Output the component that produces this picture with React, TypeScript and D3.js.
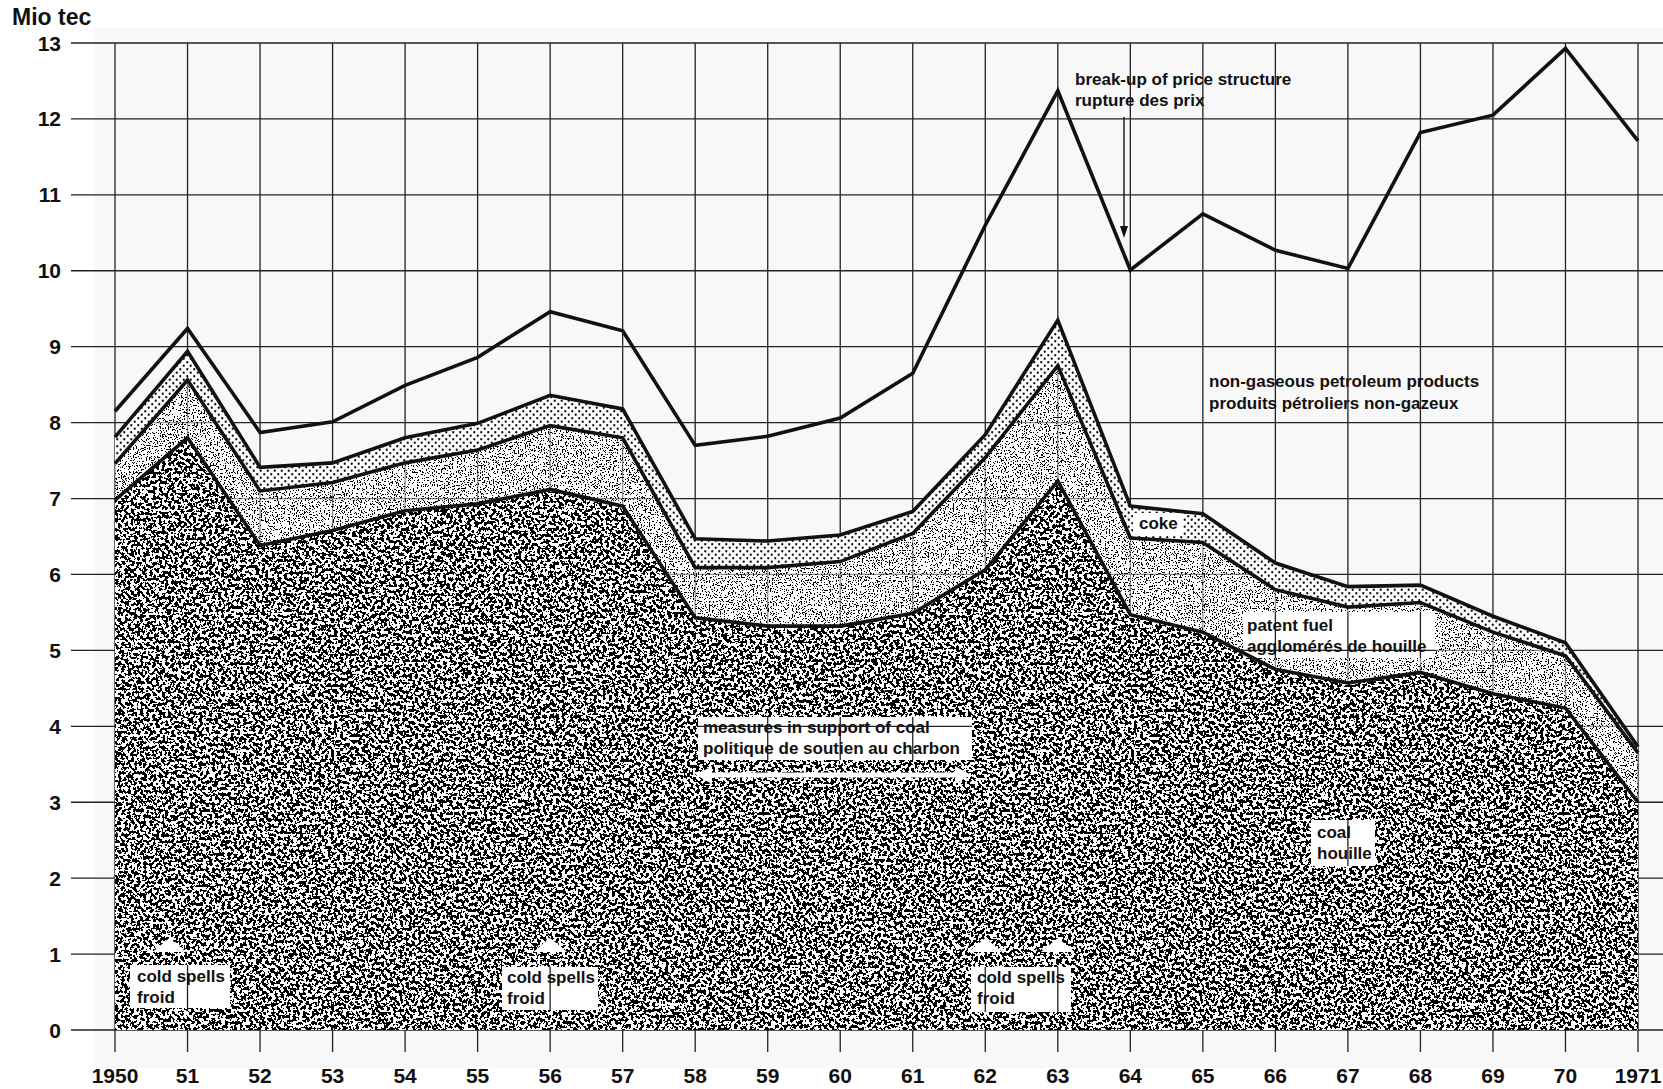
import React from 'react';
import * as d3 from 'd3';

// ---- data (Mio tec) ----
const years = [1950, 1951, 1952, 1953, 1954, 1955, 1956, 1957, 1958, 1959, 1960, 1961, 1962, 1963, 1964, 1965, 1966, 1967, 1968, 1969, 1970, 1971];
const yearLabels = ['1950', '51', '52', '53', '54', '55', '56', '57', '58', '59', '60', '61', '62', '63', '64', '65', '66', '67', '68', '69', '70', '1971'];
const coal = [6.98, 7.8, 6.38, 6.58, 6.84, 6.93, 7.12, 6.9, 5.43, 5.32, 5.32, 5.49, 6.06, 7.23, 5.47, 5.24, 4.75, 4.57, 4.71, 4.43, 4.24, 3.0];
const patentFuel = [0.48, 0.76, 0.72, 0.63, 0.63, 0.71, 0.84, 0.9, 0.66, 0.77, 0.85, 1.05, 1.48, 1.52, 1.01, 1.18, 1.05, 1.0, 0.92, 0.81, 0.69, 0.65];
const coke = [0.35, 0.38, 0.31, 0.26, 0.33, 0.35, 0.4, 0.38, 0.38, 0.35, 0.35, 0.29, 0.3, 0.6, 0.42, 0.38, 0.35, 0.27, 0.23, 0.21, 0.17, 0.08];
const petroleum = [0.34, 0.3, 0.46, 0.54, 0.69, 0.87, 1.1, 1.03, 1.23, 1.38, 1.54, 1.82, 2.76, 3.02, 3.11, 3.95, 4.12, 4.19, 5.96, 6.6, 7.83, 7.98];
const yTicks = [0, 1, 2, 3, 4, 5, 6, 7, 8, 9, 10, 11, 12, 13];
const seriesKeys = ['coal', 'patentFuel', 'coke', 'petroleum'];
const coldSpellYears = [1950.75, 1956, 1962, 1963];

const W = 1663;
const H = 1089;
const FONT = '"Liberation Sans", Arial, Helvetica, sans-serif';
const NARROW = '"Liberation Sans Narrow", "Liberation Sans", Arial, sans-serif';

// label boxes (white patches in the textured areas)
const boxes = [
  [1133, 513, 50, 22],
  [1243, 612, 192, 46],
  [1311, 820, 64, 46],
  [698, 717, 274, 43],
  [130, 965, 100, 43],
  [502, 967, 96, 43],
  [971, 967, 100, 45],
];

export default function App() {
  const x = d3.scaleLinear().domain([1950, 1971]).range([115, 1638]);
  const y = d3.scaleLinear().domain([0, 13]).range([1030, 43]);

  const rows = years.map((yr, i) => ({
    year: yr,
    coal: coal[i],
    patentFuel: patentFuel[i],
    coke: coke[i],
    petroleum: petroleum[i],
  }));
  const stacked = d3.stack<any>().keys(seriesKeys)(rows);

  const area = d3
    .area<any>()
    .x((d: any) => x(d.data.year))
    .y0((d: any) => y(d[0]))
    .y1((d: any) => y(d[1]));
  const line = d3
    .line<any>()
    .x((d: any) => x(d.data.year))
    .y((d: any) => y(d[1]));

  const textStyle = { fontFamily: FONT, fontWeight: 700, fontSize: 17, fill: '#111' } as const;
  const tri = (cx: number) => `M${cx - 17},952 L${cx},938 L${cx + 17},952 Z`;

  const grid = (prefix: string, opacity = 1) => (
    <g opacity={opacity}>
      {yTicks.map((t) => (
        <line key={prefix + 'h' + t} x1={71} x2={W} y1={y(t)} y2={y(t)} stroke="#222" strokeWidth={1.3} />
      ))}
      {years.map((yr) => (
        <line key={prefix + 'v' + yr} x1={x(yr)} x2={x(yr)} y1={y(13)} y2={y(0) + 22} stroke="#222" strokeWidth={1.3} />
      ))}
    </g>
  );

  const noise = (id: string, freq: number, oct: number, seed: number, table: string) => (
    <filter id={id} filterUnits="userSpaceOnUse" x="0" y="0" width={W} height={H} colorInterpolationFilters="sRGB">
      <feTurbulence type="fractalNoise" baseFrequency={freq} numOctaves={oct} seed={seed} result="n" />
      <feColorMatrix in="n" type="matrix" values="1 0 0 0 0  1 0 0 0 0  1 0 0 0 0  0 0 0 0 1" result="g" />
      <feComponentTransfer in="g">
        <feFuncR type="discrete" tableValues={table} />
        <feFuncG type="discrete" tableValues={table} />
        <feFuncB type="discrete" tableValues={table} />
      </feComponentTransfer>
    </filter>
  );

  return (
    <svg width={W} height={H} viewBox={`0 0 ${W} ${H}`} style={{ position: 'absolute', left: 0, top: 0, background: '#fff' }}>
      <defs>
        {noise('coalNoise', 0.32, 2, 7, '0 0 0 0 0 0 0 0 0 0 1 1 1 1 1 1 1 1 1 1')}
        {noise('fuelNoise', 0.75, 2, 3, '0 0 0 0 0 0 0 0 1 1 1 1 1 1 1 1 1 1 1 1')}
        <pattern id="cokeDots" width="7" height="7" patternUnits="userSpaceOnUse">
          <rect width="7" height="7" fill="#fff" />
          <circle cx="1.75" cy="1.75" r="1.15" fill="#111" />
          <circle cx="5.25" cy="5.25" r="1.15" fill="#111" />
        </pattern>
        <clipPath id="clipCoal">
          <path d={area(stacked[0]) || ''} />
        </clipPath>
        <clipPath id="clipFuel">
          <path d={area(stacked[1]) || ''} />
        </clipPath>
        <clipPath id="clipBoxes">
          {boxes.map((b, i) => (
            <rect key={i} x={b[0]} y={b[1]} width={b[2]} height={b[3]} />
          ))}
        </clipPath>
      </defs>

      <rect x={95} y={28} width={W - 95} height={1040} fill="#f8f8f8" />

      {/* grid beneath the areas */}
      {grid('a')}

      {/* textured areas */}
      <rect x={0} y={0} width={W} height={H} fill="#fff" filter="url(#coalNoise)" clipPath="url(#clipCoal)" />
      <rect x={0} y={0} width={W} height={H} fill="#fff" filter="url(#fuelNoise)" clipPath="url(#clipFuel)" />
      <path d={area(stacked[2]) || ''} fill="url(#cokeDots)" />

      {/* faint grid through the lighter bands */}
      <g clipPath="url(#clipFuel)">{grid('b', 0.5)}</g>

      {/* white label boxes, with the grid showing through */}
      {boxes.map((b, i) => (
        <rect key={'bx' + i} x={b[0]} y={b[1]} width={b[2]} height={b[3]} fill="#fff" />
      ))}
      <g clipPath="url(#clipBoxes)">{grid('c')}</g>

      {/* boundary lines */}
      {stacked.map((s, i) => (
        <path key={'l' + i} d={line(s) || ''} fill="none" stroke="#111" strokeWidth={3.6} strokeLinejoin="miter" />
      ))}

      {/* white arrows */}
      {coldSpellYears.map((yr, i) => (
        <path key={'t' + i} d={tri(x(yr))} fill="#fff" />
      ))}
      <path d="M696,775 L712,766 L712,772.5 L955,772.5 L955,766 L971,775 L955,784 L955,777.5 L712,777.5 L712,784 Z" fill="#fff" />

      {/* axis labels */}
      {yTicks.map((t) => (
        <text key={'yl' + t} x={61} y={y(t)} dy="0.36em" textAnchor="end" style={{ fontFamily: NARROW, fontWeight: 700, fontSize: 21, fill: '#111' }}>
          {t}
        </text>
      ))}
      {years.map((yr, i) => (
        <text key={'xl' + yr} x={x(yr)} y={1083} textAnchor="middle" style={{ fontFamily: NARROW, fontWeight: 700, fontSize: 21, fill: '#111' }}>
          {yearLabels[i]}
        </text>
      ))}
      <text x={12} y={25} style={{ fontFamily: FONT, fontWeight: 700, fontSize: 23, fill: '#111' }}>
        Mio tec
      </text>

      {/* annotations */}
      <text x={1075} y={85} style={textStyle}>break-up of price structure</text>
      <text x={1075} y={106} style={textStyle}>rupture des prix</text>
      <line x1={1124} x2={1124} y1={117} y2={228} stroke="#111" strokeWidth={1.4} />
      <path d="M1120,226 L1128,226 L1124,238 Z" fill="#111" />

      <text x={1209} y={387} style={textStyle}>non-gaseous petroleum products</text>
      <text x={1209} y={409} style={textStyle}>produits pétroliers non-gazeux</text>

      <text x={1139} y={529} style={textStyle}>coke</text>
      <text x={1247} y={631} style={textStyle}>patent fuel</text>
      <text x={1247} y={652} style={textStyle}>agglomérés de houille</text>
      <text x={1317} y={838} style={textStyle}>coal</text>
      <text x={1317} y={859} style={textStyle}>houille</text>

      <text x={703} y={733} style={textStyle}>measures in support of coal</text>
      <text x={703} y={754} style={textStyle}>politique de soutien au charbon</text>

      <text x={137} y={982} style={textStyle}>cold spells</text>
      <text x={137} y={1003} style={textStyle}>froid</text>
      <text x={507} y={983} style={textStyle}>cold spells</text>
      <text x={507} y={1004} style={textStyle}>froid</text>
      <text x={977} y={983} style={textStyle}>cold spells</text>
      <text x={977} y={1004} style={textStyle}>froid</text>
    </svg>
  );
}
